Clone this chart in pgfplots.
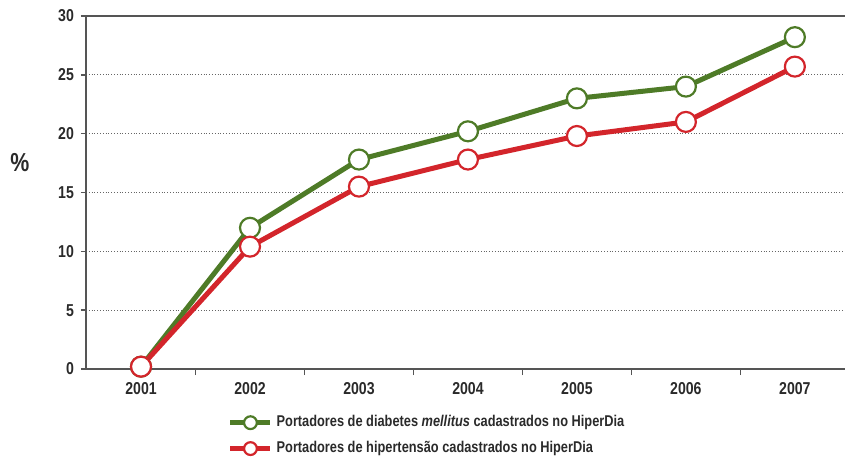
\documentclass[border=0pt]{standalone}
\usepackage{fontspec}
\setmainfont{Liberation Sans}[FakeStretch=0.82]
\usepackage{pgfplots}
\pgfplotsset{compat=1.18}
\definecolor{dgreen}{HTML}{4E7B27}
\definecolor{dred}{HTML}{D3252B}
\definecolor{axgray}{HTML}{555555}
\definecolor{txt}{HTML}{2A2A2A}
\begin{document}
\begin{tikzpicture}
\useasboundingbox (-43pt,-43.5pt) rectangle (379.5pt,184.5pt);
\begin{axis}[
    scale only axis,
    width=379.5pt, height=176.5pt,
    at={(0pt,0pt)}, anchor=south west,
    xmin=-0.505, xmax=6.46,
    ymin=0, ymax=30,
    axis lines=left,
    axis line style={-, axgray, line width=0.8pt},
    xtick={0,...,6},
    xticklabels={2001,2002,2003,2004,2005,2006,2007},
    major x tick style={draw=none},
    minor xtick={0.5,1.5,...,5.5},
    minor x tick style={axgray, line width=0.7pt},
    minor tick length=3pt,
    ytick={0,5,...,30},
    major y tick style={axgray, line width=0.7pt},
    major tick length=2.5pt,
    tick align=outside,
    ymajorgrids,
    grid style={densely dotted, gray!80!black, line width=0.45pt},
    tick label style={font=\bfseries\fontsize{8.6}{10}\selectfont, text=txt},
    xticklabel style={yshift=-0.5pt},
    /pgf/number format/assume math mode=true,
    ylabel={\%},
    ylabel style={at={(axis description cs:-0.087,0.584)}, rotate=-90, anchor=center,
        font=\bfseries\fontsize{13}{14}\selectfont, text=txt},
    legend style={at={(axis description cs:0.179,-0.108)}, anchor=north west,
        draw=none, fill=none, font=\bfseries\fontsize{7.8}{9}\selectfont, text=txt,
        row sep=1.8pt},
    legend cell align=left,
    legend image code/.code={
        \draw[#1, mark repeat=2, mark phase=2, line width=2.2pt, mark size=3.2pt]
            plot coordinates {(0pt,0pt) (10pt,0pt) (20pt,0pt)};
    },
    every axis plot/.append style={line width=2.5pt, mark=*, mark size=5pt},
    clip=false,
]
\addplot[dgreen, mark options={draw=dgreen, fill=white, line width=1.1pt}] coordinates {
    (0,0.2) (1,12.0) (2,17.8) (3,20.2) (4,23.0) (5,24.0) (6,28.2)};
\addlegendentry{Portadores de diabetes \textit{mellitus} cadastrados no HiperDia}
\addplot[dred, mark options={draw=dred, fill=white, line width=1.1pt}] coordinates {
    (0,0.2) (1,10.4) (2,15.5) (3,17.8) (4,19.8) (5,21.0) (6,25.7)};
\addlegendentry{Portadores de hipertensão cadastrados no HiperDia}
\draw[axgray, line width=0.8pt] (rel axis cs:0,1) -- (rel axis cs:1,1);
\end{axis}
\end{tikzpicture}
\end{document}
